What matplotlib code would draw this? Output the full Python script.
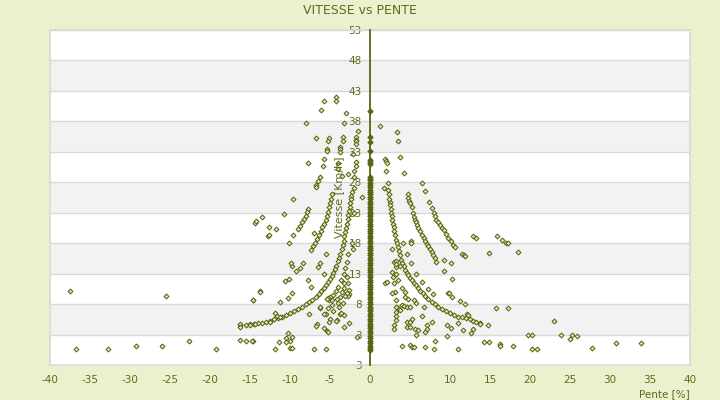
import matplotlib
matplotlib.use("Agg")
import matplotlib.pyplot as plt

# ---------------- data (Pente [%], Vitesse [Km/h]) ----------------
# points lying on the 0 % slope axis
axis_speeds = [39.7, 35.5, 34.6, 33.2, 31.6, 31.3, 31.0, 28.9, 28.6, 28.3, 27.8, 27.5,
               27.2, 26.7, 26.4, 26.1, 25.6, 25.3, 24.8, 24.4, 24.0, 23.6, 23.2, 22.8,
               22.4, 22.0, 21.6, 21.2, 20.8, 20.4, 20.0, 19.6, 19.2, 18.8, 18.4, 18.0,
               17.6, 17.2, 16.8, 16.4, 16.0, 15.6, 15.2, 14.8, 14.4, 14.0, 13.6, 13.2,
               12.8, 12.4, 12.0, 11.6, 11.2, 10.8, 10.4, 10.0, 9.6, 9.2, 8.8, 8.4, 8.0,
               7.6, 7.2, 6.8, 6.4, 6.0, 5.6, 5.2, 4.8, 4.4, 4.0, 3.6, 3.2, 2.8, 2.4, 2.0,
               1.6, 1.2, 0.8, 0.4]

# descent: main chain
descent_main_pente = [-2.3, -2.35, -2.4, -2.45, -2.5, -2.6, -2.7, -2.8, -2.9, -3.0, -3.1,
                      -3.2, -3.3, -3.4, -3.55, -3.7, -3.85, -4.0, -4.2, -4.4, -4.6, -4.8,
                      -5.0, -5.25, -5.5, -5.8, -6.1, -6.4, -6.8, -7.2, -7.6, -8.0, -8.5,
                      -9.0, -9.5, -10.0, -10.5, -11.0, -11.5, -12.0, -12.5, -13.0, -13.5,
                      -14.0, -14.5, -15.0, -15.5, -16.2]
descent_main_vitesse = [26.4, 25.8, 25.2, 24.6, 24.0, 23.3, 22.6, 21.9, 21.2, 20.5, 19.8,
                        19.1, 18.4, 17.7, 17.0, 16.3, 15.6, 15.0, 14.3, 13.7, 13.1, 12.6,
                        12.1, 11.6, 11.1, 10.6, 10.1, 9.65, 9.2, 8.75, 8.35, 7.95, 7.55,
                        7.2, 6.85, 6.5, 6.2, 5.95, 5.7, 5.5, 5.3, 5.1, 4.95, 4.85, 4.75,
                        4.65, 4.6, 4.5]

# descent: outer chain
descent_outer_pente = [-4.75, -4.85, -5.0, -5.1, -5.25, -5.4, -5.55, -5.75, -5.95, -6.15,
                       -6.4, -6.6, -6.85, -7.1, -7.35,
                       -7.7, -7.85, -8.05, -8.25, -8.45, -8.7, -9.0]
descent_outer_vitesse = [26.0, 25.3, 24.6, 23.9, 23.2, 22.5, 21.8, 21.2, 20.6, 20.0,
                         19.3, 18.7, 18.1, 17.5, 16.9,
                         23.6, 23.1, 22.5, 21.9, 21.4, 20.9, 20.4]

# descent: inner chain
descent_inner_pente = [-2.7, -2.9, -3.1, -3.3, -3.6, -3.95, -4.3, -4.6, -5.1]
descent_inner_vitesse = [16.3, 14.9, 13.9, 13.0, 11.9, 10.8, 10.1, 9.5, 8.65]

# descent: scattered points
descent_pente = [-37.5, -36.8, -32.8, -29.3, -26.0, -25.5, -22.6, -19.3, -16.3, -15.5,
                 -14.6, -16.2, -16.3, -15.0, -14.4, -14.6, -14.4, -14.2, -13.8,
                 -5.8, -4.3, -4.3, -6.1, -3.0, -8.0, -3.25, -1.5, -6.8, -5.1, -5.2, -3.4,
                 -3.4, -1.75, -1.75, -1.75, -1.75, -5.4, -5.4, -3.7, -3.7, -3.7, -2.1,
                 -1.8, -1.8, -5.75, -7.7, -5.9, -4.0, -4.0, -1.95, -1.95, -6.3, -6.5,
                 -6.7, -6.8, -3.5, -1.95, -1.0, -9.6, -10.7, -13.5, -12.6, -11.8, -7.0,
                 -12.7, -12.6, -9.6, -10.1, -5.5, -2.2, -2.1, -8.4, -8.8, -9.2, -9.8,
                 -9.9, -10.1, -10.6, -7.8, -7.4, -6.2, -6.5, -5.8,
                 -2.9, -2.8, -2.6, -2.6, -2.75, -3.2, -3.3, -3.5, -3.75, -4.1, -4.0,
                 -3.9, -4.7, -4.7, -5.0, -5.2, -9.7, -10.3, -11.3, -13.8, -14.6,
                 -7.6, -6.3, -5.5, -5.75, -5.0, -5.1, -4.1, -3.7, -3.25, -2.6,
                 -11.9, -11.6, -11.2, -12.5, -6.6, -6.75, -5.7, -5.4, -5.2, -10.2,
                 -9.7, -10.0, -10.5, -11.4, -11.9, -10.5, -10.0, -9.7, -7.0, -5.5,
                 -1.65, -14.7, -3.25, -6.25, -5.2, -5.4, -4.3, -4.6, -3.6, -3.4, -3.1,
                 -2.9, -2.7, -2.0]
descent_vitesse = [10.1, 0.7, 0.7, 1.1, 1.2, 9.3, 1.9, 0.6, 2.05, 1.9,
                   1.9, 4.8, 4.2, 4.5, 4.7, 8.6, 21.3, 21.6, 10.1,
                   41.4, 42.0, 41.3, 39.8, 39.4, 37.8, 37.7, 36.5, 35.2, 35.2, 34.8, 35.4,
                   34.8, 35.4, 35.0, 34.7, 34.3, 33.5, 33.2, 33.8, 33.4, 33.0, 32.7,
                   31.3, 30.7, 31.8, 31.2, 30.6, 31.1, 30.2, 29.8, 28.9, 28.8, 28.2,
                   27.5, 27.2, 29.1, 27.0, 25.6, 25.3, 22.8, 22.3, 20.7, 20.4, 19.6,
                   19.2, 19.4, 19.3, 18.1, 16.15, 18.0, 17.1, 14.7, 14.0, 13.4, 14.2,
                   14.7, 12.2, 11.8, 11.9, 10.8, 14.8, 14.1, 13.0,
                   12.5, 11.4, 10.3, 9.6, 9.4, 11.4, 10.6, 10.0, 9.2, 8.9, 8.2,
                   7.6, 8.65, 7.8, 9.2, 9.0, 9.75, 9.0, 8.4, 10.0, 8.65,
                   6.3, 7.4, 6.45, 6.3, 5.5, 5.1, 5.4, 6.45, 6.2, 4.85,
                   6.5, 6.1, 5.8, 5.1, 4.7, 4.45, 4.0, 3.6, 3.35, 3.2,
                   2.6, 1.9, 2.5, 1.7, 0.6, 1.7, 0.75, 0.85, 0.57, 0.57,
                   2.6, 1.9, 4.3, 7.45, 7.3, 8.8, 5.3, 6.9, 6.6, 8.1, 9.3,
                   9.85, 29.4, 23.0]

# climb: main chain
climb_main_pente = [2.5, 2.55, 2.6, 2.65, 2.7, 2.8, 2.85, 2.95, 3.05, 3.15, 3.25, 3.35,
                    3.45, 3.6, 3.75, 3.9, 4.05, 4.2, 4.4, 4.6, 4.8, 5.0, 5.2, 5.45, 5.7,
                    6.0, 6.3, 6.6, 6.9, 7.3, 7.7, 8.1, 8.5, 9.0, 9.5, 10.0, 10.5, 11.0,
                    11.5, 12.0, 12.5, 12.9, 13.3, 13.75]
climb_main_vitesse = [24.8, 24.2, 23.6, 23.0, 22.4, 21.8, 21.2, 20.6, 20.0, 19.3, 18.6,
                      18.0, 17.4, 16.7, 16.0, 15.3, 14.7, 14.2, 13.6, 13.1, 12.7, 12.3,
                      11.9, 11.5, 11.1, 10.7, 10.2, 9.8, 9.4, 8.9, 8.4, 8.0, 7.6, 7.2,
                      6.9, 6.55, 6.2, 5.95, 5.8, 5.65, 5.5, 5.25, 5.1, 4.95]

# climb: middle chain
climb_mid_pente = [5.4, 5.5, 5.6, 5.75, 5.9, 6.05, 6.25, 6.45, 6.7, 6.9, 7.1, 7.3, 7.5,
                   7.7, 7.9, 8.1, 8.3]
climb_mid_vitesse = [22.9, 22.3, 21.8, 21.4, 21.0, 20.5, 20.0, 19.4, 18.8, 18.3, 17.9,
                     17.5, 17.0, 16.6, 16.1, 15.5, 14.9]

# climb: outer chain
climb_outer_pente = [8.0, 8.15, 8.3, 8.5, 8.75, 9.0, 9.2, 9.5, 9.8, 10.1, 10.4, 10.6,
                     11.5, 11.7, 11.9]
climb_outer_vitesse = [22.9, 22.4, 21.8, 21.4, 21.0, 20.5, 20.1, 19.5, 18.8, 18.3, 17.7,
                       17.4, 16.3, 16.1, 15.9]

# climb: inner chains
climb_inner_pente = [3.05, 3.2, 3.3, 3.5, 3.95, 4.4, 2.9, 3.0, 3.1, 3.3, 3.5]
climb_inner_vitesse = [14.9, 14.1, 13.0, 11.9, 10.6, 9.2, 12.5, 11.4, 10.0, 8.65, 7.3]

# climb: scattered points
climb_pente = [1.25, 3.4, 3.5, 3.8, 1.9, 2.0, 2.1, 2.05, 4.2, 2.2, 1.7, 6.55, 6.9, 2.3,
               2.4, 4.7, 4.8, 4.9, 5.0, 2.4, 5.2, 7.4, 7.7, 12.9, 13.25,
               14.9, 10.1, 9.2, 9.2, 10.3, 10.3, 9.8, 7.9, 7.2, 6.5, 5.8, 5.1, 4.6, 4.1,
               5.1, 5.1, 2.8,
               3.95, 4.3, 4.65, 5.0, 5.5, 5.8, 4.4, 4.8, 1.9, 2.1, 2.8, 2.8, 3.75, 3.25,
               3.25, 3.2, 3.3, 3.3, 3.2, 3.05, 3.05, 3.75, 4.6, 5.0, 4.6, 5.0, 5.2, 5.6,
               6.0, 5.8, 6.45, 6.7, 7.1, 7.1, 6.9, 7.7, 8.1, 8.0, 6.9, 3.95, 5.0, 5.2,
               5.5, 9.6, 9.6, 10.1, 11.0, 11.0, 11.3, 11.9, 11.6, 12.1, 12.3, 12.6,
               12.9, 14.3, 14.9, 9.9,
               15.9, 16.5, 17.0, 17.2, 18.5, 15.7, 17.3, 13.8, 14.8, 23.0, 19.7, 20.2,
               23.9, 25.3, 25.9, 25.0, 16.2, 16.2, 17.9, 20.3, 20.9, 27.8, 30.7, 33.9]
climb_vitesse = [37.2, 36.3, 34.8, 32.2, 31.9, 31.5, 31.2, 29.9, 29.6, 27.95, 27.1, 27.95,
                 26.5, 26.7, 26.1, 26.0, 25.5, 25.0, 24.6, 25.3, 24.0, 24.8, 23.8, 19.1,
                 18.8,
                 16.4, 14.7, 15.3, 13.5, 12.05, 9.2, 9.75, 9.6, 10.5, 11.65, 13.0, 14.7,
                 16.3, 18.05, 18.4, 18.05, 17.0,
                 7.8, 7.7, 7.6, 7.5, 8.65, 8.1, 10.0, 8.9, 11.4, 11.65, 13.2, 9.85, 14.2,
                 15.05, 14.6, 7.45, 6.75, 6.0, 5.4, 4.55, 3.85, 7.0, 5.1, 5.1, 4.3, 4.3,
                 5.5, 3.85, 3.8, 3.0, 6.0, 7.45, 4.55, 3.9, 3.35, 5.1, 1.93, 0.6, 0.9,
                 1.16, 1.3, 1.0, 0.9, 4.55, 2.75, 4.0, 4.95, 0.7, 8.5, 8.0, 3.75, 6.45,
                 6.2, 3.2, 3.85, 1.7, 1.7, 9.9,
                 19.25, 18.6, 18.1, 17.95, 16.6, 7.3, 7.3, 4.8, 4.5, 5.15, 3.0, 3.0, 3.0,
                 2.85, 2.7, 2.2, 1.4, 1.2, 1.07, 0.57, 0.57, 0.74, 1.56, 1.56]

y_ticks = [-2, 3, 8, 13, 18, 23, 28, 33, 38, 43, 48, 53]
y_tick_labels = ["3", "3", "8", "13", "18", "23", "28", "33", "38", "43", "48", "53"]
x_ticks = [-40, -35, -30, -25, -20, -15, -10, -5, 0, 5, 10, 15, 20, 25, 30, 35, 40]

# ---------------- style ----------------
BG = "#ebf1cf"
OLIVE = "#5a6414"
TEXT = "#5f6a1c"
GRID = "#d9d9d9"
BAND = "#f2f2f2"
FILL = "#e4eab8"

fig = plt.figure(figsize=(7.2, 4.0), dpi=100, facecolor=BG)
ax = fig.add_axes([50 / 720, 35 / 400, 640 / 720, 335 / 400])
ax.set_facecolor("white")
ax.set_xlim(-40, 40)
ax.set_ylim(-2, 53)

# alternating bands
for lo in y_ticks[1::2]:
    hi = lo + 5
    if hi <= 53:
        ax.axhspan(lo, hi, color=BAND, zorder=0, lw=0)
for t in y_ticks[1:]:
    ax.axhline(t, color=GRID, lw=1.0, zorder=1)

mk = dict(marker="D", s=6, facecolors=FILL, edgecolors=OLIVE, linewidths=0.75, zorder=3)
groups = [
    (descent_main_pente, descent_main_vitesse),
    (descent_outer_pente, descent_outer_vitesse),
    (descent_inner_pente, descent_inner_vitesse),
    (descent_pente, descent_vitesse),
    (climb_main_pente, climb_main_vitesse),
    (climb_mid_pente, climb_mid_vitesse),
    (climb_outer_pente, climb_outer_vitesse),
    (climb_inner_pente, climb_inner_vitesse),
    (climb_pente, climb_vitesse),
]
for gx, gy in groups:
    ax.scatter(gx, gy, **mk)
ax.scatter([0] * len(axis_speeds), axis_speeds, marker="D", s=7, facecolors=OLIVE,
           edgecolors=OLIVE, linewidths=0.75, zorder=3)

# spines
for side in ["top", "right", "bottom"]:
    ax.spines[side].set_color(GRID)
    ax.spines[side].set_linewidth(1.2)
ax.spines["left"].set_position(("data", 0))
ax.spines["left"].set_color(OLIVE)
ax.spines["left"].set_linewidth(1.3)
ax.spines["left"].set_zorder(4)
ax.plot([0, 0], [0, 1], transform=ax.transAxes, color=GRID, lw=1.2, clip_on=False, zorder=5)

ax.set_yticks(y_ticks)
ax.set_yticklabels(y_tick_labels)
ax.set_xticks(x_ticks)
ax.set_xticklabels([str(v) for v in x_ticks])
ax.tick_params(axis="y", length=0, pad=6, labelsize=7.5, labelcolor=TEXT)
ax.tick_params(axis="x", length=0, pad=7, labelsize=7.5, labelcolor=TEXT)
for lab in ax.get_yticklabels():
    lab.set_zorder(6)

ax.text(0.451, 0.5, "Vitesse [Km/h]", transform=ax.transAxes, rotation=90,
        ha="center", va="center", fontsize=8, color=TEXT, zorder=6)
fig.text(690 / 720, 1 - 394 / 400, "Pente [%]", ha="right", va="center",
         fontsize=7.5, color=TEXT)
fig.text(0.5, 1 - 10 / 400, "VITESSE vs PENTE", ha="center", va="center",
         fontsize=9, color=TEXT)

fig.savefig("out.png", dpi=100, facecolor=BG)
